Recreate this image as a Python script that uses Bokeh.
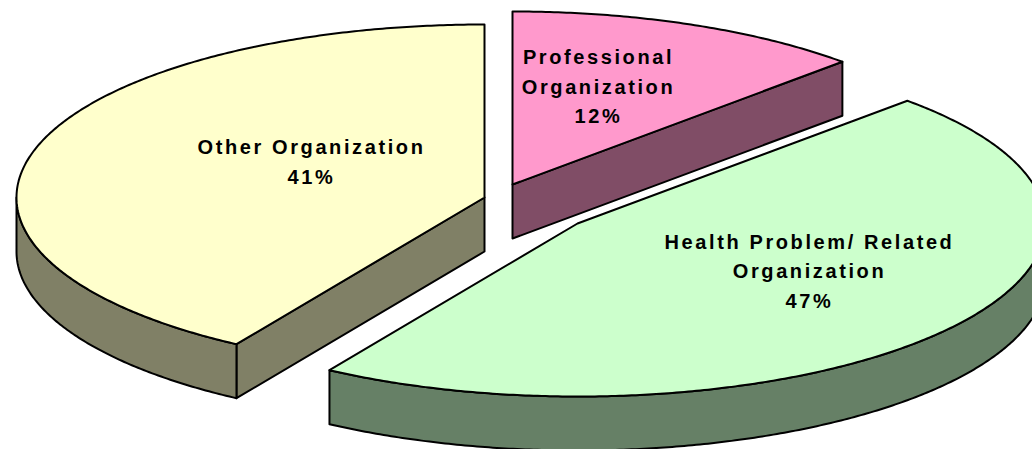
import numpy as np
from bokeh.embed import file_html
from bokeh.models import ColumnDataSource, Range1d
from bokeh.plotting import figure
from bokeh.resources import INLINE
from bokeh.core.properties import value

# Data
categories = ["Professional", "Health Problem", "Other"]
shares = [12.45, 46.44, 41.11]          # measured slice sizes (percent of the circle)
percent_labels = ["12%", "47%", "41%"]
label_lines = [["Professional", "Organization"],
               ["Health Problem/ Related", "Organization"],
               ["Other Organization"]]
top_colors = ["#FF99CC", "#CCFFCC", "#FFFFCC"]
side_colors = ["#804D66", "#668066", "#808066"]

# Layout, in pixels of the reference picture
apexes = [(512, 184), (577, 223), (484, 197)]
label_pos = [(598, 56.5), (809, 241), (311, 146.5)]
line_step = 29.5
RX, RY, DEPTH = 468, 173, 54

W, H = 1032, 449
p = figure(width=W, height=H, x_range=Range1d(0, W), y_range=Range1d(H, 0),
           output_backend="svg", toolbar_location=None, min_border=0)
p.axis.visible = False
p.grid.visible = False
p.outline_line_color = None


def rim(cx, cy, a0, a1):
    t = np.radians(np.linspace(a0, a1, max(int(abs(a1 - a0) * 2), 2)))
    return cx + RX * np.sin(t), cy - RY * np.cos(t)


def radial_wall(cx, cy, a, color):
    ex, ey = rim(cx, cy, a, a)
    return ([cx, ex[0], ex[0], cx], [cy, ey[0], ey[0] + DEPTH, cy + DEPTH], color)


edges = np.concatenate([[0], np.cumsum(shares) * 3.6])
LW = 2
sides, tops = [], []
for i, (cx, cy) in enumerate(apexes):
    a0, a1 = edges[i], edges[i + 1]
    if a1 < 90:
        sides.append(radial_wall(cx, cy, a1, side_colors[i]))
    if 180 < a0 < 270:
        sides.append(radial_wall(cx, cy, a0, side_colors[i]))
    lo, hi = max(a0, 90), min(a1, 270)
    if hi > lo:
        ax, ay = rim(cx, cy, lo, hi)
        sides.append((list(ax) + list(ax[::-1]), list(ay) + list(ay[::-1] + DEPTH), side_colors[i]))
    ax, ay = rim(cx, cy, a0, a1)
    tops.append(([cx] + list(ax), [cy] + list(ay), top_colors[i]))

for xs, ys, c in sides + tops:
    p.patch(xs, ys, fill_color=c, line_color="black", line_width=LW, line_join="round")

tx, ty, tt = [], [], []
for (lx, ly), lines, pct in zip(label_pos, label_lines, percent_labels):
    for k, s in enumerate(lines + [pct]):
        tx.append(lx); ty.append(ly + k * line_step); tt.append(s)
p.text(x="x", y="y", text="t", source=ColumnDataSource(dict(x=tx, y=ty, t=tt)),
       text_font=value("Liberation Sans"), text_font_style="bold", text_font_size="20px",
       text_color="black", text_align="center", text_baseline="middle")

html = file_html(p, INLINE)
# The reference sets its labels with wide tracking; keep them centred
track = """<script>
var sp = 2.6;
function walk(r){ r.querySelectorAll('*').forEach(e=>{
  if(e.tagName && e.tagName.toLowerCase()==='text'){
    e.style.letterSpacing = sp + 'px';
    e.setAttribute('dx', -sp * e.textContent.length / 2);
  }
  if(e.shadowRoot) walk(e.shadowRoot);
});}
setInterval(()=>walk(document),50);
</script></body>"""
html = html.replace("</body>", track)
open("out.html", "w").write(html)
